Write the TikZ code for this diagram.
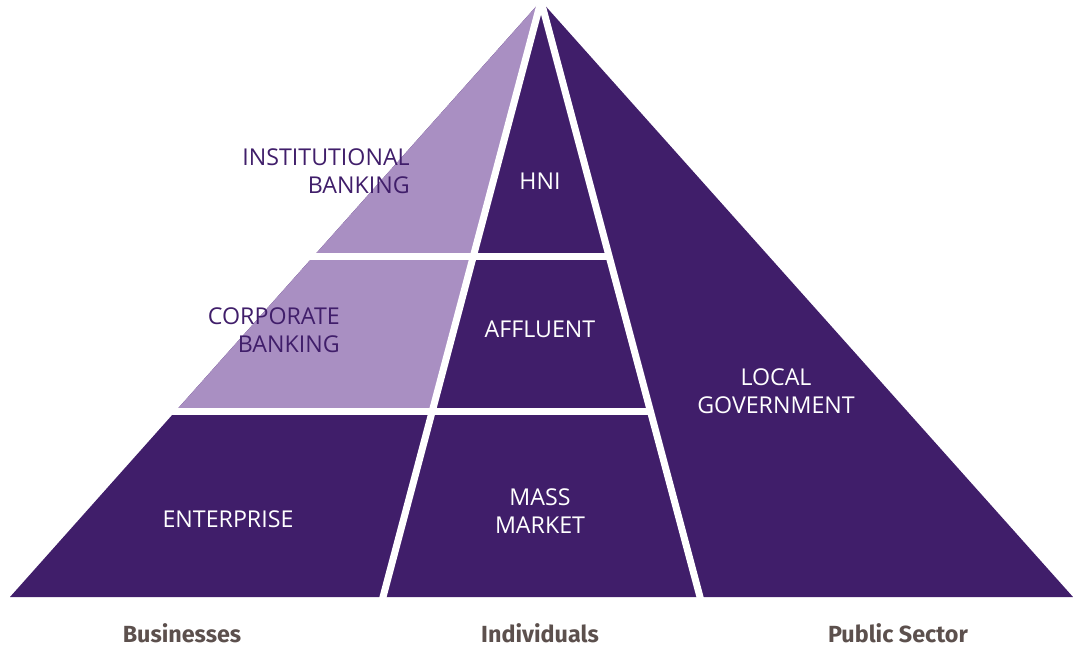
\documentclass[tikz,border=0pt]{standalone}
\usepackage{fontspec}
\setmainfont{Fira Sans}
\newfontfamily\segfont{Open Sans}
\usepackage{xcolor}
\usepackage{tikz}
\usetikzlibrary{calc}
\definecolor{segdark}{RGB}{64, 30, 106}
\definecolor{seglight}{RGB}{169, 143, 194}
\definecolor{capgray}{RGB}{92, 80, 77}

\begin{document}
\begin{tikzpicture}[x=0.75pt, y=-0.75pt,
  seglabel/.style={text=white, align=center, font=\segfont\fontsize{17.4}{21}\selectfont, inner sep=0pt},
  lightlabel/.style={text=segdark, align=right, font=\segfont\fontsize{17.4}{21}\selectfont, inner sep=0pt},
  groupname/.style={text=capgray, font=\fontsize{17.5}{20}\selectfont\bfseries, inner sep=0pt},
  cut/.style={white, line width=5.25pt}]
  \useasboundingbox (0,0) rectangle (1073,647);
  % corners of the pyramid and feet of the two cuts
  \coordinate (apex) at (541,1);
  \coordinate (bl) at (10,597);
  \coordinate (br) at (1073,597);
  \coordinate (footA) at (383,597);
  \coordinate (footB) at (700,597);
  \fill[segdark] (apex) -- (bl) -- (br) -- cycle;
  \fill[seglight] (apex) -- ($(apex)!0.688!(bl)$) -- ($(apex)!0.688!(footA)$) -- cycle;
  % white cuts
  \draw[cut] ($(apex)!-0.05!(footA)$) -- ($(apex)!1.02!(footA)$);
  \draw[cut] ($(apex)!-0.05!(footB)$) -- ($(apex)!1.02!(footB)$);
  \draw[cut] ($(apex)!0.428!(bl)+(-10,0)$) -- ($(apex)!0.428!(footB)$);
  \draw[cut] ($(apex)!0.688!(bl)+(-10,0)$) -- ($(apex)!0.688!(footB)$);

  \node[lightlabel, anchor=east] (inst) at (410,171) {INSTITUTIONAL\\BANKING};
  \node[lightlabel, anchor=east] (corp) at (340,330) {CORPORATE\\BANKING};
  \node[seglabel] (ent) at (228,519) {ENTERPRISE};
  \node[seglabel] (hni) at (540,181) {HNI};
  \node[seglabel] (aff) at (540,329) {AFFLUENT};
  \node[seglabel] (mass) at (540,511) {MASS\\MARKET};
  \node[seglabel] (gov) at (776,391) {LOCAL\\GOVERNMENT};

  \node[groupname] (bus) at (182,633) {Businesses};
  \node[groupname] (ind) at (540,633) {Individuals};
  \node[groupname] (pub) at (898,633) {Public Sector};
\end{tikzpicture}
\end{document}
